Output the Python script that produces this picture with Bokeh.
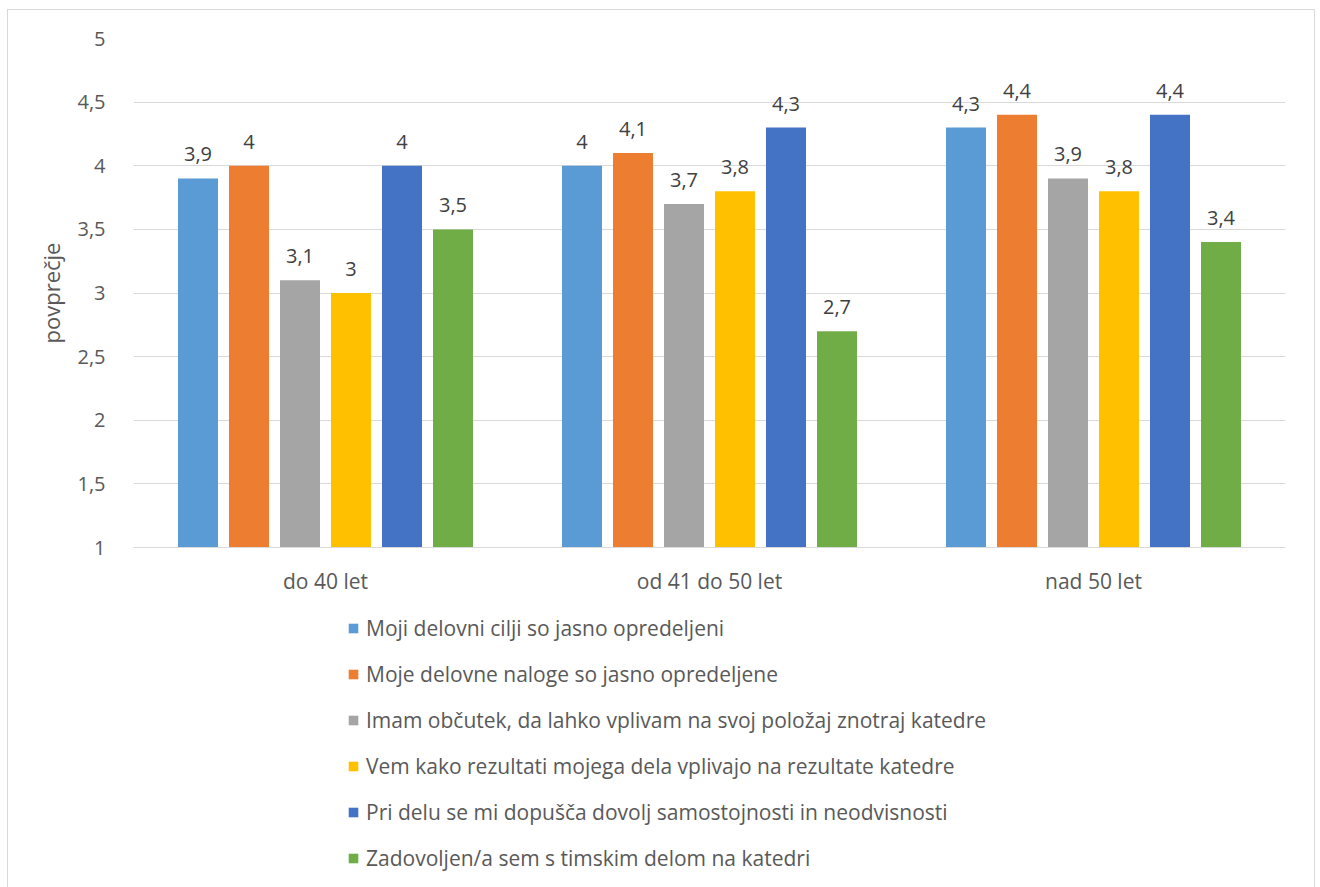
from bokeh.plotting import figure
from bokeh.layouts import column
from bokeh.models import ColumnDataSource, FactorRange, Legend, LegendItem, CustomJSTickFormatter, FixedTicker
from bokeh.transform import dodge
from bokeh.core.properties import value
from bokeh.embed import file_html
from bokeh.resources import INLINE

categories = ["do 40 let", "od 41 do 50 let", "nad 50 let"]
series_names = [
    "Moji delovni cilji so jasno opredeljeni",
    "Moje delovne naloge so jasno opredeljene",
    "Imam občutek, da lahko vplivam na svoj položaj znotraj katedre",
    "Vem kako rezultati mojega dela vplivajo na rezultate katedre",
    "Pri delu se mi dopušča dovolj samostojnosti in neodvisnosti",
    "Zadovoljen/a sem s timskim delom na katedri",
]
s1 = [3.9, 4.0, 4.3]
s2 = [4.0, 4.1, 4.4]
s3 = [3.1, 3.7, 3.9]
s4 = [3.0, 3.8, 3.8]
s5 = [4.0, 4.3, 4.4]
s6 = [3.5, 2.7, 3.4]
series_values = [s1, s2, s3, s4, s5, s6]
colors = ["#5B9BD5", "#ED7D31", "#A5A5A5", "#FFC000", "#4472C4", "#70AD47"]
y_ticks = [1, 1.5, 2, 2.5, 3, 3.5, 4, 4.5, 5]

FONT = "Open Sans"
FS = "20px"
FS_L = "21px"
W = 1306

p = figure(x_range=FactorRange(*categories), y_range=(1, 5),
           width=W, height=591, output_backend="svg", toolbar_location=None,
           min_border_left=125, min_border_right=29, min_border_top=28, min_border_bottom=54)
p.outline_line_color = None
p.xgrid.grid_line_color = None
p.ygrid.grid_line_color = "#d9d9d9"
p.ygrid.grid_line_width = 1

p.yaxis.ticker = FixedTicker(ticks=y_ticks)
p.yaxis.formatter = CustomJSTickFormatter(code="return String(tick).replace('.', ',');")
p.yaxis.axis_line_color = None
p.yaxis.major_tick_line_color = None
p.yaxis.minor_tick_line_color = None
p.yaxis.major_label_text_font = FONT
p.yaxis.major_label_text_font_size = FS
p.yaxis.major_label_text_color = "#595959"
p.yaxis.major_label_standoff = 22
p.yaxis.axis_label = "povprečje"
p.yaxis.axis_label_text_font = FONT
p.yaxis.axis_label_text_font_size = "22px"
p.yaxis.axis_label_text_font_style = "normal"
p.yaxis.axis_label_text_color = "#595959"
p.yaxis.axis_label_standoff = 8

p.xaxis.axis_line_color = "#d9d9d9"
p.xaxis.major_tick_line_color = None
p.xaxis.minor_tick_line_color = None
p.xaxis.major_label_text_font = FONT
p.xaxis.major_label_text_font_size = FS_L
p.xaxis.major_label_text_color = "#595959"
p.xaxis.major_label_standoff = 13

step = 51 / 384
bw = 40 / 384
sources = []
for i, (name, vals, col) in enumerate(zip(series_names, series_values, colors)):
    src = ColumnDataSource(dict(x=categories, top=vals,
                                lbl=[(f"{v:g}").replace('.', ',') for v in vals]))
    sources.append(src)
    off = (i - 2.5) * step
    p.vbar(x=dodge('x', off, range=p.x_range), top='top', bottom=1, width=bw,
           source=src, fill_color=col, line_color=None)
    p.text(x=dodge('x', off, range=p.x_range), y='top', text='lbl', source=src,
           text_align="center", text_baseline="bottom", y_offset=-17,
           text_font=value(FONT), text_font_size=FS, text_color="#404040")

# legend panel (separate figure below the chart, same series; its view range shows no bars)
lf = figure(width=W, height=290, output_backend="svg", toolbar_location=None,
            x_range=FactorRange(*categories), y_range=(10, 11), min_border=0)
lf.axis.visible = False
lf.grid.visible = False
lf.outline_line_color = None
items = []
for i, (name, col, src) in enumerate(zip(series_names, colors, sources)):
    off = (i - 2.5) * step
    r = lf.vbar(x=dodge('x', off, range=lf.x_range), top='top', bottom=1, width=bw,
                source=src, fill_color=col, line_color=None)
    items.append(LegendItem(label=name, renderers=[r]))
legend = Legend(items=items, location=(214, 19), orientation="vertical",
                glyph_width=12, glyph_height=12, label_standoff=7, spacing=18,
                padding=0, margin=0,
                label_text_font=FONT, label_text_font_size=FS_L, label_text_color="#595959",
                border_line_color=None, background_fill_alpha=0)
lf.add_layout(legend, "center")

layout = column(p, lf, spacing=0,
                styles={"border": "1px solid #d9d9d9", "margin-left": "7px", "margin-top": "9px"})

open("out.html", "w").write(file_html(layout, INLINE))
